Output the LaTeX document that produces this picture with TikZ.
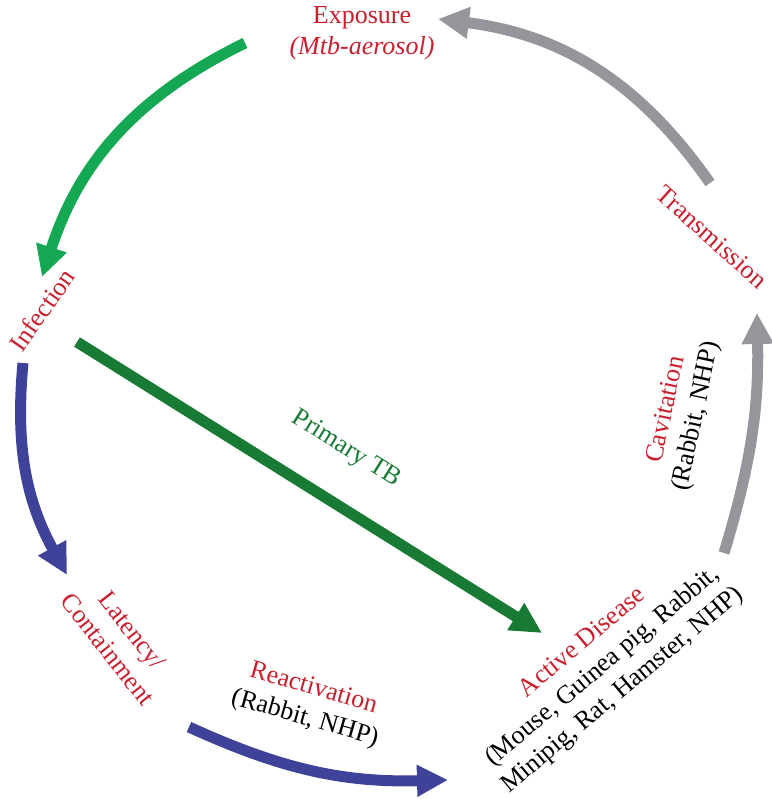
\documentclass[tikz,border=0pt]{standalone}
\usepackage{fontspec}
\setmainfont{Liberation Serif}
\usepackage{xcolor}
\usepackage{tikz}
\usetikzlibrary{arrows.meta}
\definecolor{tbred}{RGB}{200, 32, 46}
\definecolor{tbgreen}{RGB}{20, 168, 84}
\definecolor{tbdarkgreen}{RGB}{24, 122, 52}
\definecolor{tbblue}{RGB}{62, 66, 152}
\definecolor{tbgray}{RGB}{148, 150, 155}

\begin{document}
\begin{tikzpicture}[
    x=1pt, y=1pt,
    stage/.style={align=center, inner sep=0pt, text=tbred, font=\fontsize{26}{31}\selectfont},
    arrow/.style={-{Triangle[length=31pt, width=30pt]}, line width=11pt, draw=#1}
]
\useasboundingbox (0,0) rectangle (771,-799);

% Stages
\node[stage] (exposure) at (362,-33) {Exposure\\\textit{(Mtb-aerosol)}};
\node[stage, rotate=55] (infection) at (42,-310) {Infection};
\node[stage, rotate=-52] (latency) at (120,-640) {Latency/\\Containment};
\node[stage, rotate=-16] (reactivation) at (309,-704) {Reactivation\\\textcolor{black}{(Rabbit, NHP)}};
\node[stage, rotate=40] (active) at (603,-667) {Active Disease\\\textcolor{black}{(Mouse, Guinea pig, Rabbit,}\\\textcolor{black}{Minipig, Rat, Hamster, NHP)}};
\node[stage, rotate=78] (cavitation) at (682,-413) {Cavitation\\\textcolor{black}{(Rabbit, NHP)}};
\node[stage, rotate=-42] (transmission) at (712,-237) {Transmission};

% Arrow ends
\coordinate (expout) at (245,-43);
\coordinate (infin) at (42,-277);
\coordinate (infout) at (23,-363);
\coordinate (latin) at (67,-575);
\coordinate (latout) at (189,-727);
\coordinate (actin) at (448,-780);
\coordinate (primout) at (77,-342);
\coordinate (primin) at (542,-633);
\coordinate (actout) at (724,-553);
\coordinate (cavin) at (757,-313);
\coordinate (trout) at (710,-183);
\coordinate (expin) at (438,-19);

% Cycle
\draw[arrow=tbgreen] (expout) to[bend right=23] (infin);
\draw[arrow=tbblue] (infout) to[bend right=17] (latin);
\draw[arrow=tbblue] (latout) to[bend right=13] (actin);
\draw[arrow=tbgray] (actout) to[bend right=9] (cavin);
\draw[arrow=tbgray] (trout) to[bend right=24] (expin);

% Primary TB
\draw[arrow=tbdarkgreen] (primout) -- node[pos=0.52, sloped, above=35pt, inner sep=0pt, text=tbdarkgreen, font=\fontsize{26}{31}\selectfont] (primary) {Primary TB} (primin);

\end{tikzpicture}
\end{document}
